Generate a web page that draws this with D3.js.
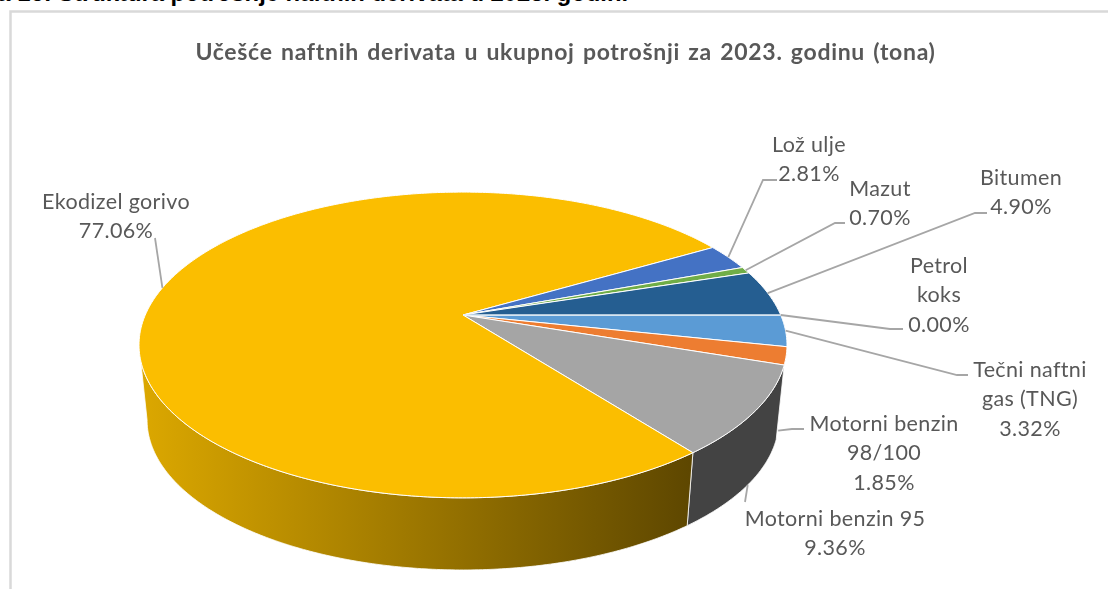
<!DOCTYPE html>
<html><head><meta charset="utf-8">
<script src="https://cdn.jsdelivr.net/npm/d3@7"></script>
<style>html,body{margin:0;padding:0;background:#fff;overflow:hidden}svg{display:block}</style>
</head><body><svg id="c" width="1108" height="589"></svg>
<script>
const categories=["Petrol koks","Tečni naftni gas (TNG)","Motorni benzin 98/100","Motorni benzin 95","Ekodizel gorivo","Lož ulje","Mazut","Bitumen"];
const shares=[0.00,3.32,1.85,9.36,77.06,2.81,0.70,4.90];
const pctLabels=["0.00%","3.32%","1.85%","9.36%","77.06%","2.81%","0.70%","4.90%"];
const colors=["#7F7F7F","#5B9BD5","#ED7D31","#A5A5A5","#FBBE00","#4472C4","#70AD47","#255E91"];
const chartTitle="Učešće naftnih derivata u ukupnoj potrošnji za 2023. godinu (tona)";
const pageHeading="Slika 16: Struktura potrošnje naftnih derivata u 2023. godini";
// label layout: text lines, centre x, first baseline, leader elbow and end
const labelLines=[["Petrol","koks","0.00%"],["Tečni naftni","gas (TNG)","3.32%"],["Motorni benzin","98/100","1.85%"],["Motorni benzin 95","9.36%"],["Ekodizel gorivo","77.06%"],["Lož ulje","2.81%"],["Mazut","0.70%"],["Bitumen","4.90%"]];
const labelCx=[939,1030,884,835,116,809,880,1021];
const labelY=[272.5,376.5,430.5,525.5,208.5,151.5,195.5,184.5];
const leaderPts=[[[890,329],[903,329]],[[957,375],[968,375]],[[792,429],[804,429]],[[745,502]],[[155,238]],[[763,180],[777,180]],[[835,223],[845,223]],[[975,213],[987,213]]];
const leaderLayer=[0,0,1,1,0,0,0,0];
const hasSide=[false,false,false,true,true,false,false,false];

const svg=d3.select("#c");
const defs=svg.append("defs");
const grad=defs.append("linearGradient").attr("id","ySide").attr("gradientUnits","userSpaceOnUse")
 .attr("x1",139).attr("x2",690).attr("y1",0).attr("y2",0);
grad.append("stop").attr("offset",0).attr("stop-color","#DCA800");
grad.append("stop").attr("offset",1).attr("stop-color","#5E4700");
defs.append("filter").attr("id","soft").append("feGaussianBlur").attr("stdDeviation",0.35);

const k=0.196;
const faces=[{cx:463,y0:315,A:317.7,B:147},{cx:463,y0:390.6,A:309.8,B:144.2}];
function proj(a,layer){const f=faces[layer];const u=Math.sin(a),v=-Math.cos(a);const w=1-k*v;
 return [f.cx+f.A*u/w,f.y0+f.B*v/w];}
const arcs=d3.pie().sort(null).value(d=>d).startAngle(Math.PI/2).endAngle(Math.PI/2+2*Math.PI)(shares);
const line=d3.line();
function arcPts(a0,a1,layer){const n=Math.max(2,Math.ceil(Math.abs(a1-a0)/0.01));
 return d3.range(n+1).map(i=>proj(a0+(a1-a0)*i/n,layer));}
const aLeft=Math.PI+Math.acos(k);

// frame
svg.append("path").attr("d","M10.5,589V11.5H1108").attr("fill","none").attr("stroke","#D9D9D9").attr("stroke-width",2.5);
// page heading
svg.append("text").attr("x",-45).attr("y",1).attr("font-family","Liberation Sans").attr("font-weight",700)
 .attr("font-size",23.8).attr("fill","#000").text(pageHeading);
svg.append("text").attr("x",565.5).attr("y",60).attr("text-anchor","middle").attr("font-family","Lato")
 .attr("font-weight",700).attr("font-size",23).attr("letter-spacing",0.7).attr("word-spacing",2).attr("fill","#595959").attr("filter","url(#soft)").text(chartTitle);

// sides
const gSide=svg.append("g");
arcs.forEach((d,i)=>{ if(!hasSide[i])return;
 const a0=Math.max(d.startAngle,Math.PI/2),a1=Math.min(d.endAngle,aLeft);
 const pts=arcPts(a0,a1,0).concat(arcPts(a1,a0,1));
 gSide.append("path").attr("d",line(pts)+"Z").attr("fill",i===4?"url(#ySide)":"#434343")
  .attr("stroke","#fff").attr("stroke-width",0.8);
});
// top face
const gTop=svg.append("g");
arcs.forEach((d,i)=>{ if(d.value===0)return;
 const apex=[faces[0].cx,faces[0].y0];
 const pts=[apex].concat(arcPts(d.startAngle,d.endAngle,0));
 gTop.append("path").attr("d",line(pts)+"Z").attr("fill",colors[i]).attr("stroke","#fff").attr("stroke-width",1).attr("stroke-linejoin","round");
});
const pk=proj(arcs[0].startAngle,0);
gTop.append("line").attr("x1",faces[0].cx).attr("y1",faces[0].y0).attr("x2",pk[0]).attr("y2",pk[1]).attr("stroke","#D5E3F0").attr("stroke-width",1.2);

// leaders
const gL=svg.append("g");
arcs.forEach((d,i)=>{
 const mid=(d.startAngle+d.endAngle)/2;
 const p=proj(mid,leaderLayer[i]);
 gL.append("path").attr("d",line([p].concat(leaderPts[i]))).attr("fill","none").attr("stroke","#A6A6A6").attr("stroke-width",1.8);
});
// labels
const gT=svg.append("g").attr("font-family","Lato").attr("font-size",21.5).attr("letter-spacing",0.35).attr("fill","#595959").attr("text-anchor","middle").attr("filter","url(#soft)");
labelLines.forEach((ls,i)=>{
 ls.forEach((t,j)=>gT.append("text").attr("x",labelCx[i]).attr("y",labelY[i]+j*29.5).text(t));
});
</script></body></html>
